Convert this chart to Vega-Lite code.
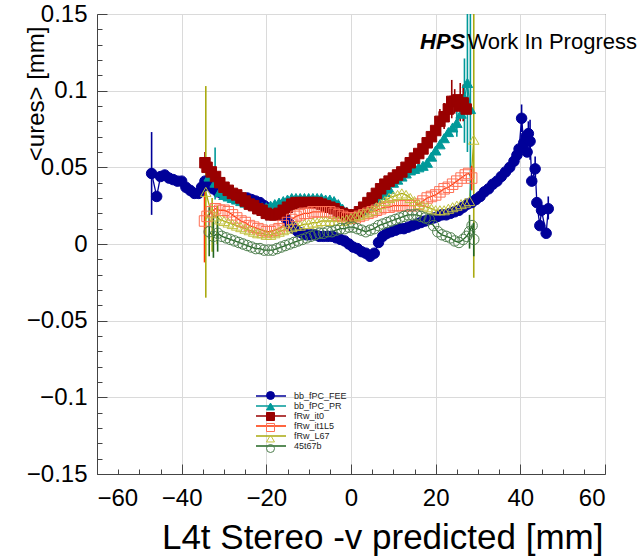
{
"$schema": "https://vega.github.io/schema/vega-lite/v6.json",
"width": 508, "height": 460,
"autosize": {"type": "none"},
"padding": {"left": 97, "top": 14, "right": 39, "bottom": 85},
"background": "white",
"config": {"font": "Liberation Sans", "view": {"stroke": "#444", "strokeWidth": 1}},
"datasets": {
"pts": [
{"s":"bb_fPC_FEE","x":-47.1,"y":0.046},{"s":"bb_fPC_FEE","x":-45.9,"y":0.031},{"s":"bb_fPC_FEE","x":-45,"y":0.044},{"s":"bb_fPC_FEE","x":-44,"y":0.045},{"s":"bb_fPC_FEE","x":-43,"y":0.043},{"s":"bb_fPC_FEE","x":-42,"y":0.042},{"s":"bb_fPC_FEE","x":-41,"y":0.041},{"s":"bb_fPC_FEE","x":-40,"y":0.041},{"s":"bb_fPC_FEE","x":-39,"y":0.037},{"s":"bb_fPC_FEE","x":-38,"y":0.035},{"s":"bb_fPC_FEE","x":-37,"y":0.033},{"s":"bb_fPC_FEE","x":-36,"y":0.033},{"s":"bb_fPC_FEE","x":-35.3,"y":0.037},{"s":"bb_fPC_FEE","x":-34.5,"y":0.041},{"s":"bb_fPC_FEE","x":-33.5,"y":0.038},{"s":"bb_fPC_FEE","x":-32.5,"y":0.036},{"s":"bb_fPC_FEE","x":-31.5,"y":0.034},{"s":"bb_fPC_FEE","x":-30.5,"y":0.033},{"s":"bb_fPC_FEE","x":-29.5,"y":0.032},{"s":"bb_fPC_FEE","x":-28.5,"y":0.031},{"s":"bb_fPC_FEE","x":-27.5,"y":0.031},{"s":"bb_fPC_FEE","x":-26.5,"y":0.030},{"s":"bb_fPC_FEE","x":-25.5,"y":0.030},{"s":"bb_fPC_FEE","x":-24.5,"y":0.030},{"s":"bb_fPC_FEE","x":-23.5,"y":0.029},{"s":"bb_fPC_FEE","x":-22.5,"y":0.028},{"s":"bb_fPC_FEE","x":-21.5,"y":0.027},{"s":"bb_fPC_FEE","x":-20.5,"y":0.025},{"s":"bb_fPC_FEE","x":-19.5,"y":0.023},{"s":"bb_fPC_FEE","x":-18.5,"y":0.022},{"s":"bb_fPC_FEE","x":-17.5,"y":0.021},{"s":"bb_fPC_FEE","x":-16.5,"y":0.019},{"s":"bb_fPC_FEE","x":-15.5,"y":0.017},{"s":"bb_fPC_FEE","x":-14.5,"y":0.013},{"s":"bb_fPC_FEE","x":-13.5,"y":0.010},{"s":"bb_fPC_FEE","x":-12.5,"y":0.008},{"s":"bb_fPC_FEE","x":-11.5,"y":0.007},{"s":"bb_fPC_FEE","x":-10.5,"y":0.006},{"s":"bb_fPC_FEE","x":-9.5,"y":0.006},{"s":"bb_fPC_FEE","x":-8.5,"y":0.006},{"s":"bb_fPC_FEE","x":-7.5,"y":0.005},{"s":"bb_fPC_FEE","x":-6.5,"y":0.005},{"s":"bb_fPC_FEE","x":-5.5,"y":0.005},{"s":"bb_fPC_FEE","x":-4.5,"y":0.005},{"s":"bb_fPC_FEE","x":-3.5,"y":0.004},{"s":"bb_fPC_FEE","x":-2.5,"y":0.003},{"s":"bb_fPC_FEE","x":-1.5,"y":0.002},{"s":"bb_fPC_FEE","x":-0.5,"y":0.000},{"s":"bb_fPC_FEE","x":0.5,"y":-0.002},{"s":"bb_fPC_FEE","x":1.5,"y":-0.003},{"s":"bb_fPC_FEE","x":2.5,"y":-0.005},{"s":"bb_fPC_FEE","x":3.5,"y":-0.006},{"s":"bb_fPC_FEE","x":4.5,"y":-0.008},{"s":"bb_fPC_FEE","x":5.5,"y":-0.006},{"s":"bb_fPC_FEE","x":6.5,"y":0.001},{"s":"bb_fPC_FEE","x":7.5,"y":0.005},{"s":"bb_fPC_FEE","x":8.5,"y":0.007},{"s":"bb_fPC_FEE","x":9.5,"y":0.008},{"s":"bb_fPC_FEE","x":10.5,"y":0.009},{"s":"bb_fPC_FEE","x":11.5,"y":0.010},{"s":"bb_fPC_FEE","x":12.5,"y":0.010},{"s":"bb_fPC_FEE","x":13.5,"y":0.011},{"s":"bb_fPC_FEE","x":14.5,"y":0.012},{"s":"bb_fPC_FEE","x":15.5,"y":0.013},{"s":"bb_fPC_FEE","x":16.5,"y":0.014},{"s":"bb_fPC_FEE","x":17.5,"y":0.015},{"s":"bb_fPC_FEE","x":18.5,"y":0.016},{"s":"bb_fPC_FEE","x":19.5,"y":0.017},{"s":"bb_fPC_FEE","x":20.5,"y":0.018},{"s":"bb_fPC_FEE","x":21.5,"y":0.019},{"s":"bb_fPC_FEE","x":22.5,"y":0.019},{"s":"bb_fPC_FEE","x":23.5,"y":0.020},{"s":"bb_fPC_FEE","x":24.5,"y":0.021},{"s":"bb_fPC_FEE","x":25.5,"y":0.022},{"s":"bb_fPC_FEE","x":26.5,"y":0.024},{"s":"bb_fPC_FEE","x":27.5,"y":0.026},{"s":"bb_fPC_FEE","x":28.5,"y":0.027},{"s":"bb_fPC_FEE","x":29.5,"y":0.029},{"s":"bb_fPC_FEE","x":30.5,"y":0.031},{"s":"bb_fPC_FEE","x":31.5,"y":0.034},{"s":"bb_fPC_FEE","x":32.5,"y":0.036},{"s":"bb_fPC_FEE","x":33.5,"y":0.039},{"s":"bb_fPC_FEE","x":34.5,"y":0.041},{"s":"bb_fPC_FEE","x":35.5,"y":0.044},{"s":"bb_fPC_FEE","x":36.5,"y":0.047},{"s":"bb_fPC_FEE","x":37.5,"y":0.050},{"s":"bb_fPC_FEE","x":38.5,"y":0.054},{"s":"bb_fPC_FEE","x":39.2,"y":0.058},{"s":"bb_fPC_FEE","x":39.7,"y":0.062},{"s":"bb_fPC_FEE","x":40.3,"y":0.082},{"s":"bb_fPC_FEE","x":40.8,"y":0.066},{"s":"bb_fPC_FEE","x":41.3,"y":0.070},{"s":"bb_fPC_FEE","x":41.6,"y":0.060},{"s":"bb_fPC_FEE","x":41.9,"y":0.072},{"s":"bb_fPC_FEE","x":42.3,"y":0.067},{"s":"bb_fPC_FEE","x":42.7,"y":0.041},{"s":"bb_fPC_FEE","x":43.5,"y":0.049},{"s":"bb_fPC_FEE","x":43.9,"y":0.027},{"s":"bb_fPC_FEE","x":44.6,"y":0.012},{"s":"bb_fPC_FEE","x":45.0,"y":0.022},{"s":"bb_fPC_FEE","x":46.1,"y":0.007},{"s":"bb_fPC_FEE","x":46.6,"y":0.023},
{"s":"bb_fPC_PR","x":-33.5,"y":0.044},{"s":"bb_fPC_PR","x":-32.1,"y":0.040},{"s":"bb_fPC_PR","x":-31,"y":0.034},{"s":"bb_fPC_PR","x":-30,"y":0.032},{"s":"bb_fPC_PR","x":-29,"y":0.031},{"s":"bb_fPC_PR","x":-28,"y":0.030},{"s":"bb_fPC_PR","x":-27,"y":0.029},{"s":"bb_fPC_PR","x":-26,"y":0.028},{"s":"bb_fPC_PR","x":-25,"y":0.027},{"s":"bb_fPC_PR","x":-24,"y":0.026},{"s":"bb_fPC_PR","x":-23,"y":0.025},{"s":"bb_fPC_PR","x":-22,"y":0.024},{"s":"bb_fPC_PR","x":-21,"y":0.024},{"s":"bb_fPC_PR","x":-20,"y":0.024},{"s":"bb_fPC_PR","x":-19,"y":0.025},{"s":"bb_fPC_PR","x":-18,"y":0.026},{"s":"bb_fPC_PR","x":-17,"y":0.027},{"s":"bb_fPC_PR","x":-16,"y":0.028},{"s":"bb_fPC_PR","x":-15,"y":0.029},{"s":"bb_fPC_PR","x":-14,"y":0.030},{"s":"bb_fPC_PR","x":-13,"y":0.030},{"s":"bb_fPC_PR","x":-12,"y":0.030},{"s":"bb_fPC_PR","x":-11,"y":0.030},{"s":"bb_fPC_PR","x":-10,"y":0.030},{"s":"bb_fPC_PR","x":-9,"y":0.030},{"s":"bb_fPC_PR","x":-8,"y":0.030},{"s":"bb_fPC_PR","x":-7,"y":0.030},{"s":"bb_fPC_PR","x":-6,"y":0.029},{"s":"bb_fPC_PR","x":-5,"y":0.029},{"s":"bb_fPC_PR","x":-4,"y":0.028},{"s":"bb_fPC_PR","x":-3,"y":0.026},{"s":"bb_fPC_PR","x":-2,"y":0.023},{"s":"bb_fPC_PR","x":-1,"y":0.021},{"s":"bb_fPC_PR","x":0,"y":0.019},{"s":"bb_fPC_PR","x":1,"y":0.019},{"s":"bb_fPC_PR","x":2,"y":0.020},{"s":"bb_fPC_PR","x":3,"y":0.022},{"s":"bb_fPC_PR","x":4,"y":0.025},{"s":"bb_fPC_PR","x":5,"y":0.028},{"s":"bb_fPC_PR","x":6,"y":0.030},{"s":"bb_fPC_PR","x":7,"y":0.032},{"s":"bb_fPC_PR","x":8,"y":0.034},{"s":"bb_fPC_PR","x":9,"y":0.036},{"s":"bb_fPC_PR","x":10,"y":0.040},{"s":"bb_fPC_PR","x":11,"y":0.042},{"s":"bb_fPC_PR","x":12,"y":0.044},{"s":"bb_fPC_PR","x":13,"y":0.046},{"s":"bb_fPC_PR","x":14,"y":0.048},{"s":"bb_fPC_PR","x":15,"y":0.049},{"s":"bb_fPC_PR","x":16,"y":0.050},{"s":"bb_fPC_PR","x":17,"y":0.051},{"s":"bb_fPC_PR","x":18,"y":0.053},{"s":"bb_fPC_PR","x":19,"y":0.057},{"s":"bb_fPC_PR","x":20,"y":0.061},{"s":"bb_fPC_PR","x":21,"y":0.065},{"s":"bb_fPC_PR","x":22,"y":0.069},{"s":"bb_fPC_PR","x":23,"y":0.073},{"s":"bb_fPC_PR","x":24,"y":0.076},{"s":"bb_fPC_PR","x":25,"y":0.079},{"s":"bb_fPC_PR","x":26,"y":0.085},{"s":"bb_fPC_PR","x":26.8,"y":0.095},{"s":"bb_fPC_PR","x":27.5,"y":0.105},{"s":"bb_fPC_PR","x":28.2,"y":0.088},
{"s":"fRw_it0","x":-34.5,"y":0.053},{"s":"fRw_it0","x":-34,"y":0.050},{"s":"fRw_it0","x":-33,"y":0.047},{"s":"fRw_it0","x":-32,"y":0.044},{"s":"fRw_it0","x":-31,"y":0.040},{"s":"fRw_it0","x":-30,"y":0.037},{"s":"fRw_it0","x":-29,"y":0.035},{"s":"fRw_it0","x":-28,"y":0.033},{"s":"fRw_it0","x":-27,"y":0.032},{"s":"fRw_it0","x":-26,"y":0.030},{"s":"fRw_it0","x":-25,"y":0.028},{"s":"fRw_it0","x":-24,"y":0.026},{"s":"fRw_it0","x":-23,"y":0.025},{"s":"fRw_it0","x":-22,"y":0.023},{"s":"fRw_it0","x":-21,"y":0.022},{"s":"fRw_it0","x":-20,"y":0.020},{"s":"fRw_it0","x":-19,"y":0.019},{"s":"fRw_it0","x":-18,"y":0.019},{"s":"fRw_it0","x":-17,"y":0.020},{"s":"fRw_it0","x":-16,"y":0.022},{"s":"fRw_it0","x":-15,"y":0.024},{"s":"fRw_it0","x":-14,"y":0.026},{"s":"fRw_it0","x":-13,"y":0.027},{"s":"fRw_it0","x":-12,"y":0.027},{"s":"fRw_it0","x":-11,"y":0.027},{"s":"fRw_it0","x":-10,"y":0.027},{"s":"fRw_it0","x":-9,"y":0.027},{"s":"fRw_it0","x":-8,"y":0.027},{"s":"fRw_it0","x":-7,"y":0.026},{"s":"fRw_it0","x":-6,"y":0.025},{"s":"fRw_it0","x":-5,"y":0.024},{"s":"fRw_it0","x":-4,"y":0.023},{"s":"fRw_it0","x":-3,"y":0.021},{"s":"fRw_it0","x":-2,"y":0.020},{"s":"fRw_it0","x":-1,"y":0.019},{"s":"fRw_it0","x":0,"y":0.018},{"s":"fRw_it0","x":1,"y":0.019},{"s":"fRw_it0","x":2,"y":0.021},{"s":"fRw_it0","x":3,"y":0.024},{"s":"fRw_it0","x":4,"y":0.027},{"s":"fRw_it0","x":5,"y":0.030},{"s":"fRw_it0","x":6,"y":0.033},{"s":"fRw_it0","x":7,"y":0.036},{"s":"fRw_it0","x":8,"y":0.039},{"s":"fRw_it0","x":9,"y":0.041},{"s":"fRw_it0","x":10,"y":0.043},{"s":"fRw_it0","x":11,"y":0.045},{"s":"fRw_it0","x":12,"y":0.047},{"s":"fRw_it0","x":13,"y":0.050},{"s":"fRw_it0","x":14,"y":0.053},{"s":"fRw_it0","x":15,"y":0.056},{"s":"fRw_it0","x":16,"y":0.059},{"s":"fRw_it0","x":17,"y":0.062},{"s":"fRw_it0","x":18,"y":0.066},{"s":"fRw_it0","x":19,"y":0.070},{"s":"fRw_it0","x":20,"y":0.074},{"s":"fRw_it0","x":21,"y":0.080},{"s":"fRw_it0","x":22,"y":0.083},{"s":"fRw_it0","x":23,"y":0.088},{"s":"fRw_it0","x":23.8,"y":0.093},{"s":"fRw_it0","x":24.5,"y":0.093},{"s":"fRw_it0","x":25.2,"y":0.094},{"s":"fRw_it0","x":25.8,"y":0.090},{"s":"fRw_it0","x":26.5,"y":0.092},{"s":"fRw_it0","x":27.2,"y":0.088},
{"s":"fRw_it1L5","x":-34.6,"y":0.015},{"s":"fRw_it1L5","x":-34,"y":0.018},{"s":"fRw_it1L5","x":-33,"y":0.021},{"s":"fRw_it1L5","x":-32,"y":0.023},{"s":"fRw_it1L5","x":-31,"y":0.022},{"s":"fRw_it1L5","x":-30,"y":0.022},{"s":"fRw_it1L5","x":-29,"y":0.021},{"s":"fRw_it1L5","x":-28,"y":0.019},{"s":"fRw_it1L5","x":-27,"y":0.017},{"s":"fRw_it1L5","x":-26,"y":0.015},{"s":"fRw_it1L5","x":-25,"y":0.014},{"s":"fRw_it1L5","x":-24,"y":0.012},{"s":"fRw_it1L5","x":-23,"y":0.011},{"s":"fRw_it1L5","x":-22,"y":0.010},{"s":"fRw_it1L5","x":-21,"y":0.009},{"s":"fRw_it1L5","x":-20,"y":0.008},{"s":"fRw_it1L5","x":-19,"y":0.008},{"s":"fRw_it1L5","x":-18,"y":0.009},{"s":"fRw_it1L5","x":-17,"y":0.010},{"s":"fRw_it1L5","x":-16,"y":0.012},{"s":"fRw_it1L5","x":-15,"y":0.014},{"s":"fRw_it1L5","x":-14,"y":0.016},{"s":"fRw_it1L5","x":-13,"y":0.018},{"s":"fRw_it1L5","x":-12,"y":0.019},{"s":"fRw_it1L5","x":-11,"y":0.020},{"s":"fRw_it1L5","x":-10,"y":0.020},{"s":"fRw_it1L5","x":-9,"y":0.021},{"s":"fRw_it1L5","x":-8,"y":0.021},{"s":"fRw_it1L5","x":-7,"y":0.021},{"s":"fRw_it1L5","x":-6,"y":0.021},{"s":"fRw_it1L5","x":-5,"y":0.021},{"s":"fRw_it1L5","x":-4,"y":0.020},{"s":"fRw_it1L5","x":-3,"y":0.019},{"s":"fRw_it1L5","x":-2,"y":0.018},{"s":"fRw_it1L5","x":-1,"y":0.017},{"s":"fRw_it1L5","x":0,"y":0.017},{"s":"fRw_it1L5","x":1,"y":0.017},{"s":"fRw_it1L5","x":2,"y":0.018},{"s":"fRw_it1L5","x":3,"y":0.019},{"s":"fRw_it1L5","x":4,"y":0.020},{"s":"fRw_it1L5","x":5,"y":0.021},{"s":"fRw_it1L5","x":6,"y":0.022},{"s":"fRw_it1L5","x":7,"y":0.023},{"s":"fRw_it1L5","x":8,"y":0.024},{"s":"fRw_it1L5","x":9,"y":0.024},{"s":"fRw_it1L5","x":10,"y":0.025},{"s":"fRw_it1L5","x":11,"y":0.025},{"s":"fRw_it1L5","x":12,"y":0.025},{"s":"fRw_it1L5","x":13,"y":0.025},{"s":"fRw_it1L5","x":14,"y":0.025},{"s":"fRw_it1L5","x":15,"y":0.025},{"s":"fRw_it1L5","x":16,"y":0.026},{"s":"fRw_it1L5","x":17,"y":0.028},{"s":"fRw_it1L5","x":18,"y":0.030},{"s":"fRw_it1L5","x":19,"y":0.031},{"s":"fRw_it1L5","x":20,"y":0.032},{"s":"fRw_it1L5","x":21,"y":0.034},{"s":"fRw_it1L5","x":22,"y":0.036},{"s":"fRw_it1L5","x":23,"y":0.037},{"s":"fRw_it1L5","x":24,"y":0.039},{"s":"fRw_it1L5","x":25,"y":0.041},{"s":"fRw_it1L5","x":26,"y":0.043},{"s":"fRw_it1L5","x":27,"y":0.045},{"s":"fRw_it1L5","x":27.8,"y":0.046},{"s":"fRw_it1L5","x":28.5,"y":0.043},
{"s":"fRw_L67","x":-34.3,"y":0.034},{"s":"fRw_L67","x":-33,"y":0.020},{"s":"fRw_L67","x":-32,"y":0.018},{"s":"fRw_L67","x":-31,"y":0.016},{"s":"fRw_L67","x":-30,"y":0.015},{"s":"fRw_L67","x":-29,"y":0.014},{"s":"fRw_L67","x":-28,"y":0.013},{"s":"fRw_L67","x":-27,"y":0.012},{"s":"fRw_L67","x":-26,"y":0.011},{"s":"fRw_L67","x":-25,"y":0.010},{"s":"fRw_L67","x":-24,"y":0.009},{"s":"fRw_L67","x":-23,"y":0.008},{"s":"fRw_L67","x":-22,"y":0.007},{"s":"fRw_L67","x":-21,"y":0.007},{"s":"fRw_L67","x":-20,"y":0.006},{"s":"fRw_L67","x":-19,"y":0.006},{"s":"fRw_L67","x":-18,"y":0.007},{"s":"fRw_L67","x":-17,"y":0.008},{"s":"fRw_L67","x":-16,"y":0.009},{"s":"fRw_L67","x":-15,"y":0.010},{"s":"fRw_L67","x":-14,"y":0.011},{"s":"fRw_L67","x":-13,"y":0.012},{"s":"fRw_L67","x":-12,"y":0.012},{"s":"fRw_L67","x":-11,"y":0.013},{"s":"fRw_L67","x":-10,"y":0.013},{"s":"fRw_L67","x":-9,"y":0.014},{"s":"fRw_L67","x":-8,"y":0.014},{"s":"fRw_L67","x":-7,"y":0.015},{"s":"fRw_L67","x":-6,"y":0.015},{"s":"fRw_L67","x":-5,"y":0.015},{"s":"fRw_L67","x":-4,"y":0.015},{"s":"fRw_L67","x":-3,"y":0.015},{"s":"fRw_L67","x":-2,"y":0.015},{"s":"fRw_L67","x":-1,"y":0.016},{"s":"fRw_L67","x":0,"y":0.017},{"s":"fRw_L67","x":1,"y":0.018},{"s":"fRw_L67","x":2,"y":0.019},{"s":"fRw_L67","x":3,"y":0.020},{"s":"fRw_L67","x":4,"y":0.021},{"s":"fRw_L67","x":5,"y":0.022},{"s":"fRw_L67","x":6,"y":0.024},{"s":"fRw_L67","x":7,"y":0.026},{"s":"fRw_L67","x":8,"y":0.028},{"s":"fRw_L67","x":9,"y":0.030},{"s":"fRw_L67","x":10,"y":0.031},{"s":"fRw_L67","x":11,"y":0.032},{"s":"fRw_L67","x":12,"y":0.033},{"s":"fRw_L67","x":13,"y":0.032},{"s":"fRw_L67","x":14,"y":0.030},{"s":"fRw_L67","x":15,"y":0.028},{"s":"fRw_L67","x":16,"y":0.026},{"s":"fRw_L67","x":17,"y":0.025},{"s":"fRw_L67","x":18,"y":0.024},{"s":"fRw_L67","x":19,"y":0.023},{"s":"fRw_L67","x":20,"y":0.022},{"s":"fRw_L67","x":21,"y":0.022},{"s":"fRw_L67","x":22,"y":0.022},{"s":"fRw_L67","x":23,"y":0.023},{"s":"fRw_L67","x":24,"y":0.024},{"s":"fRw_L67","x":25,"y":0.025},{"s":"fRw_L67","x":26,"y":0.026},{"s":"fRw_L67","x":27,"y":0.027},{"s":"fRw_L67","x":28,"y":0.028},{"s":"fRw_L67","x":29,"y":0.068},
{"s":"45t67b","x":-33.5,"y":0.008},{"s":"45t67b","x":-32.5,"y":0.005},{"s":"45t67b","x":-31.5,"y":0.007},{"s":"45t67b","x":-30.5,"y":0.005},{"s":"45t67b","x":-29.5,"y":0.004},{"s":"45t67b","x":-28.5,"y":0.003},{"s":"45t67b","x":-27.5,"y":0.002},{"s":"45t67b","x":-26.5,"y":0.001},{"s":"45t67b","x":-25.5,"y":0.000},{"s":"45t67b","x":-24.5,"y":-0.001},{"s":"45t67b","x":-23.5,"y":-0.002},{"s":"45t67b","x":-22.5,"y":-0.003},{"s":"45t67b","x":-21.5,"y":-0.003},{"s":"45t67b","x":-20.5,"y":-0.004},{"s":"45t67b","x":-19.5,"y":-0.004},{"s":"45t67b","x":-18.5,"y":-0.004},{"s":"45t67b","x":-17.5,"y":-0.003},{"s":"45t67b","x":-16.5,"y":-0.002},{"s":"45t67b","x":-15.5,"y":-0.001},{"s":"45t67b","x":-14.5,"y":0.000},{"s":"45t67b","x":-13.5,"y":0.001},{"s":"45t67b","x":-12.5,"y":0.002},{"s":"45t67b","x":-11.5,"y":0.003},{"s":"45t67b","x":-10.5,"y":0.004},{"s":"45t67b","x":-9.5,"y":0.005},{"s":"45t67b","x":-8.5,"y":0.006},{"s":"45t67b","x":-7.5,"y":0.007},{"s":"45t67b","x":-6.5,"y":0.007},{"s":"45t67b","x":-5.5,"y":0.008},{"s":"45t67b","x":-4.5,"y":0.008},{"s":"45t67b","x":-3.5,"y":0.009},{"s":"45t67b","x":-2.5,"y":0.010},{"s":"45t67b","x":-1.5,"y":0.010},{"s":"45t67b","x":-0.5,"y":0.011},{"s":"45t67b","x":0.5,"y":0.011},{"s":"45t67b","x":1.5,"y":0.010},{"s":"45t67b","x":2.5,"y":0.009},{"s":"45t67b","x":3.5,"y":0.008},{"s":"45t67b","x":4.5,"y":0.009},{"s":"45t67b","x":5.5,"y":0.010},{"s":"45t67b","x":6.5,"y":0.012},{"s":"45t67b","x":7.5,"y":0.013},{"s":"45t67b","x":8.5,"y":0.014},{"s":"45t67b","x":9.5,"y":0.015},{"s":"45t67b","x":10.5,"y":0.016},{"s":"45t67b","x":11.5,"y":0.017},{"s":"45t67b","x":12.5,"y":0.018},{"s":"45t67b","x":13.5,"y":0.019},{"s":"45t67b","x":14.5,"y":0.019},{"s":"45t67b","x":15.5,"y":0.019},{"s":"45t67b","x":16.5,"y":0.018},{"s":"45t67b","x":17.5,"y":0.017},{"s":"45t67b","x":18.5,"y":0.016},{"s":"45t67b","x":19.5,"y":0.012},{"s":"45t67b","x":20.5,"y":0.008},{"s":"45t67b","x":21.5,"y":0.006},{"s":"45t67b","x":22.5,"y":0.005},{"s":"45t67b","x":23.5,"y":0.004},{"s":"45t67b","x":24.5,"y":0.002},{"s":"45t67b","x":25.5,"y":0.001},{"s":"45t67b","x":26.5,"y":0.003},{"s":"45t67b","x":27.3,"y":0.005},{"s":"45t67b","x":28,"y":0.008},{"s":"45t67b","x":28.6,"y":0.012},{"s":"45t67b","x":29,"y":0.003}
],
"err": [
{"s":"bb_fPC_FEE","x":-47.1,"lo":0.019,"hi":0.073},{"s":"bb_fPC_FEE","x":40.3,"lo":0.073,"hi":0.091},{"s":"bb_fPC_FEE","x":41.9,"lo":0.064,"hi":0.080},{"s":"bb_fPC_FEE","x":42.3,"lo":0.055,"hi":0.081},{"s":"bb_fPC_FEE","x":43.5,"lo":0.043,"hi":0.057},{"s":"bb_fPC_FEE","x":45.0,"lo":0.018,"hi":0.027},{"s":"bb_fPC_FEE","x":46.6,"lo":0.016,"hi":0.031},
{"s":"bb_fPC_PR","x":-32.1,"lo":0.029,"hi":0.063},{"s":"bb_fPC_PR","x":25,"lo":0.070,"hi":0.090},{"s":"bb_fPC_PR","x":26.8,"lo":0.066,"hi":0.121},{"s":"bb_fPC_PR","x":27.5,"lo":0.060,"hi":0.155},{"s":"bb_fPC_PR","x":28.2,"lo":0.024,"hi":0.155},
{"s":"fRw_it0","x":-34.5,"lo":0.047,"hi":0.060},{"s":"fRw_it0","x":21,"lo":0.072,"hi":0.088},{"s":"fRw_it0","x":22,"lo":0.075,"hi":0.092},{"s":"fRw_it0","x":23.8,"lo":0.082,"hi":0.107},{"s":"fRw_it0","x":24.5,"lo":0.085,"hi":0.101},{"s":"fRw_it0","x":25.8,"lo":0.080,"hi":0.105},{"s":"fRw_it0","x":26.5,"lo":0.080,"hi":0.104},
{"s":"fRw_it1L5","x":-34.6,"lo":-0.012,"hi":0.042},{"s":"fRw_it1L5","x":28.5,"lo":0.035,"hi":0.051},
{"s":"fRw_L67","x":-34.3,"lo":-0.035,"hi":0.103},{"s":"fRw_L67","x":-32.8,"lo":-0.005,"hi":0.030},{"s":"fRw_L67","x":-31.6,"lo":0.000,"hi":0.025},{"s":"fRw_L67","x":29,"lo":-0.022,"hi":0.158},
{"s":"45t67b","x":-33.5,"lo":-0.008,"hi":0.024},{"s":"45t67b","x":-32.5,"lo":-0.009,"hi":0.019},{"s":"45t67b","x":-31.5,"lo":-0.005,"hi":0.019},{"s":"45t67b","x":28,"lo":-0.003,"hi":0.019},{"s":"45t67b","x":29,"lo":-0.008,"hi":0.014}
]
},
"layer": [
{
"encoding": {
"x": {"field": "x", "type": "quantitative",
 "scale": {"domain": [-60, 60], "nice": false, "zero": false},
 "axis": {
  "values": [-60,-55,-50,-45,-40,-35,-30,-25,-20,-15,-10,-5,0,5,10,15,20,25,30,35,40,45,50,55,60],
  "labelExpr": "datum.value % 20 === 0 ? datum.label : ''",
  "tickSize": {"condition": {"test": "datum.value % 20 === 0", "value": -10}, "value": -5},
  "tickColor": "#444", "domainColor": "#444",
  "grid": true, "gridColor": "#dadada",
  "gridOpacity": {"condition": {"test": "datum.value % 20 === 0", "value": 1}, "value": 0},
  "labelFontSize": 24, "labelColor": "black", "labelPadding": 22, "labelFont": "Liberation Sans",
  "title": "L4t Stereo -v predicted [mm]", "titleFontSize": 35, "titleFontWeight": "normal", "titleColor": "black", "titleFont": "Liberation Sans",
  "titleAnchor": "end", "titleAlign": "right", "titleX": 506, "titleY": 74, "titleBaseline": "alphabetic"
 }},
"y": {"field": "y", "type": "quantitative",
 "scale": {"domain": [-0.15, 0.15], "nice": false, "zero": false},
 "axis": {
  "values": [-0.15,-0.14,-0.13,-0.12,-0.11,-0.1,-0.09,-0.08,-0.07,-0.06,-0.05,-0.04,-0.03,-0.02,-0.01,0,0.01,0.02,0.03,0.04,0.05,0.06,0.07,0.08,0.09,0.1,0.11,0.12,0.13,0.14,0.15],
  "format": "~g",
  "labelExpr": "abs(round(datum.value*100)) % 5 === 0 ? datum.label : ''",
  "tickSize": {"condition": {"test": "abs(round(datum.value*100)) % 5 === 0", "value": -10}, "value": -5},
  "tickColor": "#444", "domainColor": "#444",
  "grid": true, "gridColor": "#dadada",
  "gridOpacity": {"condition": {"test": "abs(round(datum.value*100)) % 5 === 0", "value": 1}, "value": 0},
  "labelFontSize": 24, "labelColor": "black", "labelPadding": 20, "labelFont": "Liberation Sans",
  "title": "<ures> [mm]", "titleFontSize": 24, "titleFontWeight": "normal", "titleColor": "black", "titleFont": "Liberation Sans",
  "titleAnchor": "end", "titleAlign": "right", "titleAngle": 270, "titleX": -54, "titleY": 12, "titleBaseline": "alphabetic"
 }}
},
"layer": [
{"data": {"name": "pts"},
 "mark": {"type": "line", "strokeWidth": 1.3, "clip": true},
 "encoding": {
  "color": {"field": "s", "type": "nominal", "sort": ["bb_fPC_FEE","bb_fPC_PR","fRw_it0","fRw_it1L5","fRw_L67","45t67b"],
   "scale": {"range": ["#000099","#009999","#990000","#ff3300","#aaaa10","#226622"]},
   "legend": {"title": null, "orient": "none", "legendX": 169, "legendY": 377, "symbolType": "M-3.75,0H3.75", "symbolSize": 64, "symbolStrokeWidth": 1.5, "labelFontSize": 9, "labelOffset": 18, "rowPadding": 0, "padding": 0, "labelColor": "#222", "labelFont": "Liberation Sans"}}
 }},
{"data": {"name": "err"},
 "mark": {"type": "rule", "strokeWidth": 1.6, "clip": true},
 "encoding": {
  "y": {"field": "lo", "type": "quantitative"},
  "y2": {"field": "hi"},
  "color": {"field": "s", "type": "nominal", "sort": ["bb_fPC_FEE","bb_fPC_PR","fRw_it0","fRw_it1L5","fRw_L67","45t67b"]}
 }},
{"data": {"name": "pts"},
 "mark": {"type": "point", "filled": true, "size": 110, "strokeWidth": 1, "opacity": 1},
 "encoding": {
  "stroke": {"field": "s", "type": "nominal",
   "scale": {"domain": ["bb_fPC_FEE","bb_fPC_PR","fRw_it0","fRw_it1L5","fRw_L67","45t67b"], "range": ["#000099","#009999","#990000","#ff7055","#c2c240","#4f7f4f"]},
   "legend": {"title": null, "orient": "none", "legendX": 169, "legendY": 377, "symbolSize": 64, "symbolStrokeWidth": 1, "labelFontSize": 9, "labelOffset": 18, "rowPadding": -2.2, "padding": 0, "labelExpr": "''"}},
  "fill": {"field": "s", "type": "nominal",
   "scale": {"domain": ["bb_fPC_FEE","bb_fPC_PR","fRw_it0","fRw_it1L5","fRw_L67","45t67b"], "range": ["#000099","#009999","#990000","transparent","transparent","transparent"]},
   "legend": {"title": null, "orient": "none", "legendX": 169, "legendY": 377, "symbolSize": 64, "symbolStrokeWidth": 1, "labelFontSize": 9, "labelOffset": 18, "rowPadding": -2.2, "padding": 0, "labelExpr": "''"}},
  "shape": {"field": "s", "type": "nominal",
   "scale": {"domain": ["bb_fPC_FEE","bb_fPC_PR","fRw_it0","fRw_it1L5","fRw_L67","45t67b"], "range": ["circle","triangle-up","square","square","triangle-up","circle"]},
   "legend": {"title": null, "orient": "none", "legendX": 169, "legendY": 377, "symbolSize": 64, "symbolStrokeWidth": 1, "labelFontSize": 9, "labelOffset": 18, "rowPadding": -2.2, "padding": 0, "labelExpr": "''"}}
 }}
]
},
{"data": {"values": [{"t": "HPS"}]},
 "mark": {"type": "text", "align": "left", "baseline": "alphabetic", "fontSize": 22, "fontWeight": "bold", "fontStyle": "italic", "font": "Liberation Sans", "color": "black"},
 "encoding": {
  "x": {"datum": 16.3, "type": "quantitative",
   "axis": {
    "values": [-60,-55,-50,-45,-40,-35,-30,-25,-20,-15,-10,-5,0,5,10,15,20,25,30,35,40,45,50,55,60],
    "labelExpr": "datum.value % 20 === 0 ? datum.label : ''",
    "tickSize": {"condition": {"test": "datum.value % 20 === 0", "value": -10}, "value": -5},
    "tickColor": "#444", "domainColor": "#444",
    "grid": true, "gridColor": "#dadada",
    "gridOpacity": {"condition": {"test": "datum.value % 20 === 0", "value": 1}, "value": 0},
    "labelFontSize": 24, "labelColor": "black", "labelPadding": 22, "labelFont": "Liberation Sans",
    "title": "L4t Stereo -v predicted [mm]", "titleFontSize": 35, "titleFontWeight": "normal", "titleColor": "black", "titleFont": "Liberation Sans",
    "titleAnchor": "end", "titleAlign": "right", "titleX": 506, "titleY": 74, "titleBaseline": "alphabetic"
   }},
  "y": {"datum": 0.1275, "type": "quantitative",
   "axis": {
    "values": [-0.15,-0.14,-0.13,-0.12,-0.11,-0.1,-0.09,-0.08,-0.07,-0.06,-0.05,-0.04,-0.03,-0.02,-0.01,0,0.01,0.02,0.03,0.04,0.05,0.06,0.07,0.08,0.09,0.1,0.11,0.12,0.13,0.14,0.15],
    "format": "~g",
    "labelExpr": "abs(round(datum.value*100)) % 5 === 0 ? datum.label : ''",
    "tickSize": {"condition": {"test": "abs(round(datum.value*100)) % 5 === 0", "value": -10}, "value": -5},
    "tickColor": "#444", "domainColor": "#444",
    "grid": true, "gridColor": "#dadada",
    "gridOpacity": {"condition": {"test": "abs(round(datum.value*100)) % 5 === 0", "value": 1}, "value": 0},
    "labelFontSize": 24, "labelColor": "black", "labelPadding": 20, "labelFont": "Liberation Sans",
    "title": "<ures> [mm]", "titleFontSize": 24, "titleFontWeight": "normal", "titleColor": "black", "titleFont": "Liberation Sans",
    "titleAnchor": "end", "titleAlign": "right", "titleAngle": 270, "titleX": -54, "titleY": 12, "titleBaseline": "alphabetic"
   }},
  "text": {"field": "t"}}},
{"data": {"values": [{"t": "Work In Progress"}]},
 "mark": {"type": "text", "align": "left", "baseline": "alphabetic", "fontSize": 22, "font": "Liberation Sans", "color": "black"},
 "encoding": {
  "x": {"datum": 27.5, "type": "quantitative",
   "axis": {
    "values": [-60,-55,-50,-45,-40,-35,-30,-25,-20,-15,-10,-5,0,5,10,15,20,25,30,35,40,45,50,55,60],
    "labelExpr": "datum.value % 20 === 0 ? datum.label : ''",
    "tickSize": {"condition": {"test": "datum.value % 20 === 0", "value": -10}, "value": -5},
    "tickColor": "#444", "domainColor": "#444",
    "grid": true, "gridColor": "#dadada",
    "gridOpacity": {"condition": {"test": "datum.value % 20 === 0", "value": 1}, "value": 0},
    "labelFontSize": 24, "labelColor": "black", "labelPadding": 22, "labelFont": "Liberation Sans",
    "title": "L4t Stereo -v predicted [mm]", "titleFontSize": 35, "titleFontWeight": "normal", "titleColor": "black", "titleFont": "Liberation Sans",
    "titleAnchor": "end", "titleAlign": "right", "titleX": 506, "titleY": 74, "titleBaseline": "alphabetic"
   }},
  "y": {"datum": 0.1275, "type": "quantitative",
   "axis": {
    "values": [-0.15,-0.14,-0.13,-0.12,-0.11,-0.1,-0.09,-0.08,-0.07,-0.06,-0.05,-0.04,-0.03,-0.02,-0.01,0,0.01,0.02,0.03,0.04,0.05,0.06,0.07,0.08,0.09,0.1,0.11,0.12,0.13,0.14,0.15],
    "format": "~g",
    "labelExpr": "abs(round(datum.value*100)) % 5 === 0 ? datum.label : ''",
    "tickSize": {"condition": {"test": "abs(round(datum.value*100)) % 5 === 0", "value": -10}, "value": -5},
    "tickColor": "#444", "domainColor": "#444",
    "grid": true, "gridColor": "#dadada",
    "gridOpacity": {"condition": {"test": "abs(round(datum.value*100)) % 5 === 0", "value": 1}, "value": 0},
    "labelFontSize": 24, "labelColor": "black", "labelPadding": 20, "labelFont": "Liberation Sans",
    "title": "<ures> [mm]", "titleFontSize": 24, "titleFontWeight": "normal", "titleColor": "black", "titleFont": "Liberation Sans",
    "titleAnchor": "end", "titleAlign": "right", "titleAngle": 270, "titleX": -54, "titleY": 12, "titleBaseline": "alphabetic"
   }},
  "text": {"field": "t"}}}
]
}
